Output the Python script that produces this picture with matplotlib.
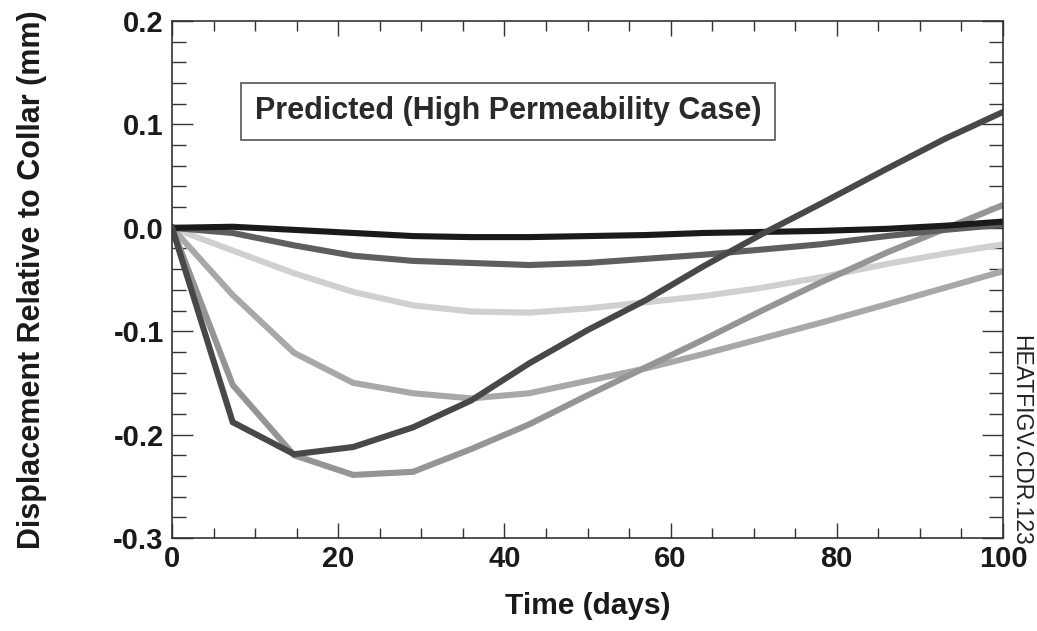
import matplotlib
matplotlib.use("Agg")
import matplotlib.pyplot as plt
from matplotlib.ticker import MultipleLocator, FormatStrFormatter

plt.rcParams['font.family'] = ['Liberation Sans', 'DejaVu Sans']

# Data (time in days, displacement in mm)
time_days = [0, 7.3, 14.7, 21.8, 29, 36, 43, 50, 57, 64, 71, 78, 86, 93, 100]
series_1 = [0, 0.001, -0.002, -0.005, -0.008, -0.009, -0.009, -0.008, -0.007, -0.005, -0.004, -0.003, -0.001, 0.002, 0.006]
series_2 = [0, -0.005, -0.017, -0.027, -0.032, -0.034, -0.036, -0.034, -0.030, -0.026, -0.021, -0.016, -0.008, -0.002, 0.003]
series_3 = [0, -0.022, -0.044, -0.062, -0.075, -0.081, -0.082, -0.078, -0.072, -0.066, -0.058, -0.048, -0.035, -0.025, -0.016]
series_4 = [0, -0.065, -0.121, -0.150, -0.160, -0.165, -0.160, -0.148, -0.136, -0.122, -0.107, -0.092, -0.074, -0.058, -0.042]
series_5 = [0, -0.188, -0.219, -0.212, -0.193, -0.167, -0.131, -0.099, -0.070, -0.037, -0.006, 0.023, 0.057, 0.086, 0.112]
series_6 = [0, -0.152, -0.220, -0.239, -0.236, -0.214, -0.190, -0.162, -0.135, -0.108, -0.080, -0.053, -0.024, -0.001, 0.022]

series = [series_3, series_4, series_6, series_2, series_1, series_5]
colors = ['#d0d0d0', '#a8a8a8', '#959595', '#5e5e5e', '#1a1a1a', '#484848']

fig = plt.figure(figsize=(10.37, 6.31), dpi=100)
ax = fig.add_axes([0.1659, 0.1474, 0.8013, 0.8193])

for ys, c in zip(series, colors):
    ax.plot(time_days, ys, color=c, linewidth=4.4, solid_joinstyle='miter')

ax.set_xlim(0, 100)
ax.set_ylim(-0.3, 0.2)
ax.xaxis.set_major_locator(MultipleLocator(20))
ax.xaxis.set_minor_locator(MultipleLocator(5))
ax.yaxis.set_major_locator(MultipleLocator(0.1))
ax.yaxis.set_minor_locator(MultipleLocator(0.02))
ax.yaxis.set_major_formatter(FormatStrFormatter('%.1f'))

ax.tick_params(axis='x', which='major', direction='in', length=11, width=1, top=True, labelsize=21, pad=5, colors='#333333', labelcolor='#1a1a1a')
ax.tick_params(axis='x', which='minor', direction='in', length=7, width=1, top=True, colors='#333333')
ax.tick_params(axis='y', which='major', direction='in', length=15, width=1, right=True, labelsize=21, pad=6, colors='#333333', labelcolor='#1a1a1a')
ax.tick_params(axis='y', which='minor', direction='in', length=10, width=1, right=True, colors='#333333')
for lbl in ax.get_xticklabels() + ax.get_yticklabels():
    lbl.set_fontweight('bold')

for s in ax.spines.values():
    s.set_linewidth(1.2)
    s.set_color('#333333')

ax.set_xlabel('Time (days)', fontsize=21.5, fontweight='bold', color='#1a1a1a', labelpad=14)
ax.set_ylabel('Displacement Relative to Collar (mm)', fontsize=22, fontweight='bold', color='#1a1a1a', labelpad=48)

ax.text(0.0999, 0.825, 'Predicted (High Permeability Case)', transform=ax.transAxes,
        fontsize=22, fontweight='bold', color='#2a2a2a', va='center', ha='left',
        bbox=dict(boxstyle='square,pad=0.45', facecolor='white', edgecolor='#555555', linewidth=1.2))

fig.text(0.9845, 1 - 335 / 631, 'HEATFIGV.CDR.123', rotation=-90, fontsize=16.5, color='#222222',
         va='top', ha='center')

fig.savefig('out.png', dpi=100)
